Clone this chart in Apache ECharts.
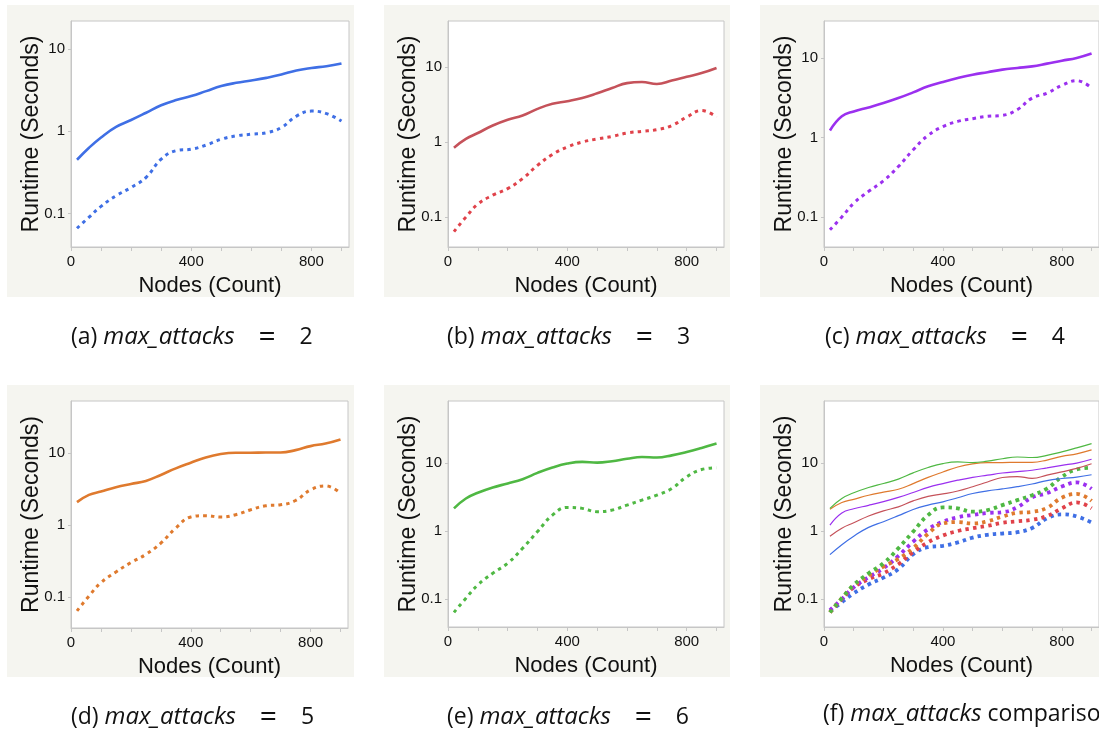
<!DOCTYPE html>
<html>
<head>
<meta charset="utf-8">
<script src="https://cdn.jsdelivr.net/npm/echarts@6/dist/echarts.min.js"></script>
<style>
html,body{margin:0;padding:0;background:#ffffff;}
#chart{width:1099px;height:734px;}
</style>
</head>
<body>
<div id="chart"></div>
<script>
// ---- data ----
const nodes = [20, 60, 100, 150, 200, 250, 300, 350, 400, 450, 500, 550, 600, 650, 700, 750, 800, 850, 900];
const xTickLabels = [0, 400, 800];
const yTickLabels = [0.1, 1, 10];

const solid2  = [0.45, 0.63, 0.84, 1.13, 1.37, 1.68, 2.07, 2.4, 2.68, 3.08, 3.55, 3.89, 4.15, 4.47, 4.9, 5.5, 5.9, 6.2, 6.7];
const dotted2 = [0.066, 0.09, 0.122, 0.164, 0.207, 0.275, 0.457, 0.58, 0.605, 0.68, 0.8, 0.88, 0.92, 0.96, 1.11, 1.53, 1.76, 1.64, 1.33];
const solid3  = [0.84, 1.1, 1.32, 1.66, 1.98, 2.26, 2.77, 3.23, 3.5, 3.87, 4.47, 5.25, 6.1, 6.3, 5.94, 6.6, 7.4, 8.3, 9.7];
const dotted3 = [0.064, 0.1, 0.149, 0.196, 0.24, 0.326, 0.49, 0.685, 0.86, 1.0, 1.1, 1.19, 1.32, 1.39, 1.46, 1.66, 2.15, 2.63, 2.15];
const solid4  = [1.22, 1.84, 2.12, 2.38, 2.7, 3.12, 3.68, 4.38, 4.97, 5.57, 6.14, 6.6, 7.1, 7.45, 7.8, 8.45, 9.2, 9.95, 11.3];
const dotted4 = [0.069, 0.1, 0.149, 0.21, 0.285, 0.43, 0.7, 1.06, 1.37, 1.59, 1.72, 1.84, 1.89, 2.23, 3.12, 3.6, 4.5, 5.16, 4.17];
const solid5  = [2.08, 2.62, 2.92, 3.35, 3.72, 4.1, 4.97, 6.14, 7.35, 8.7, 9.7, 10.1, 10.1, 10.2, 10.2, 11, 12.5, 13.6, 15.5];
const dotted5 = [0.064, 0.103, 0.158, 0.222, 0.3, 0.39, 0.56, 0.91, 1.29, 1.35, 1.29, 1.39, 1.63, 1.85, 1.91, 2.19, 3.08, 3.5, 2.77];
const solid6  = [2.15, 3.0, 3.64, 4.36, 4.99, 5.77, 7.14, 8.55, 9.78, 10.35, 10.1, 10.6, 11.5, 12.2, 12.0, 12.9, 14.5, 16.6, 19.2];
const dotted6 = [0.064, 0.103, 0.162, 0.24, 0.336, 0.557, 0.98, 1.71, 2.22, 2.15, 1.92, 2.03, 2.4, 2.84, 3.36, 4.2, 6.24, 8.0, 8.5];

const captionPrefix = ['(a) ', '(b) ', '(c) ', '(d) ', '(e) ', '(f) '];
const captionItalic = 'max_attacks';
const captionValue = ['2', '3', '4', '5', '6', null];
const captionTail = ' comparison';
const xAxisName = 'Nodes (Count)';
const yAxisName = 'Runtime (Seconds)';

// ---- styles ----
const colors = {
  2: {solid: '#3f6fe5', dotted: '#3f6fe5'},
  3: {solid: '#c5525a', dotted: '#e0424a'},
  4: {solid: '#9b30ef', dotted: '#9b30ef'},
  5: {solid: '#df7a2e', dotted: '#df7a2e'},
  6: {solid: '#4fb843', dotted: '#4fb843'}
};
const seriesData = {
  2: [solid2, dotted2], 3: [solid3, dotted3], 4: [solid4, dotted4],
  5: [solid5, dotted5], 6: [solid6, dotted6]
};

const panels = [
  {left: 71,  top: 21,  width: 278, height: 226, ymin: 0.039, ymax: 22, keys: [2], bg: [7, 5, 347, 292]},
  {left: 448, top: 21,  width: 276, height: 226, ymin: 0.04,  ymax: 41, keys: [3], bg: [384, 5, 346, 292]},
  {left: 824, top: 21,  width: 278, height: 226, ymin: 0.042, ymax: 29, keys: [4], bg: [760, 5, 345, 292]},
  {left: 71,  top: 401, width: 277, height: 227, ymin: 0.037, ymax: 53, keys: [5], bg: [7, 385, 347, 292]},
  {left: 448, top: 401, width: 276, height: 226, ymin: 0.039, ymax: 81, keys: [6], bg: [384, 385, 346, 292]},
  {left: 824, top: 401, width: 278, height: 226, ymin: 0.039, ymax: 81, keys: [2, 3, 4, 5, 6], bg: [760, 385, 345, 292]}
];
const captionPos = [[71, 339], [447, 339], [825, 339], [71, 719], [447, 719], [823, 719]];

const FONT = '"Liberation Sans", Arial, Helvetica, sans-serif';
const CAPFONT = '"Open Sans", Lato, sans-serif';
const CAPSIZE = 23;

const grid = [], xAxis = [], yAxis = [], series = [], graphic = [];

panels.forEach((p, i) => {
  graphic.push({
    type: 'rect', z: -10, silent: true,
    shape: {x: p.bg[0], y: p.bg[1], width: p.bg[2], height: p.bg[3]},
    style: {fill: '#f5f5f0'}
  });
  grid.push({left: p.left, top: p.top, width: p.width, height: p.height,
    show: true, backgroundColor: '#ffffff', borderColor: '#c6c6c6', borderWidth: 1});
  xAxis.push({
    type: 'value', gridIndex: i, min: 0, max: 925, interval: 100,
    name: xAxisName, nameLocation: 'middle', nameGap: 28,
    nameTextStyle: {fontFamily: FONT, fontSize: 22, color: '#111'},
    axisLine: {show: true, lineStyle: {color: '#c6c6c6'}},
    axisTick: {show: true, length: 4, inside: false, lineStyle: {color: '#c6c6c6'}},
    splitLine: {show: false},
    axisLabel: {interval: 0, margin: 7, fontFamily: FONT, fontSize: 15, color: '#111',
      showMinLabel: true, showMaxLabel: false,
      formatter: v => xTickLabels.indexOf(v) >= 0 ? String(v) : ''}
  });
  yAxis.push({
    type: 'log', gridIndex: i, min: p.ymin, max: p.ymax, logBase: 10,
    name: yAxisName, nameLocation: 'middle', nameGap: 28, nameRotate: 90,
    nameMoveOverlap: false,
    nameTextStyle: {fontFamily: FONT, fontSize: 23, color: '#111'},
    axisLine: {show: true, lineStyle: {color: '#c6c6c6'}},
    axisTick: {show: true, length: 3, lineStyle: {color: '#c6c6c6'}},
    splitLine: {show: false},
    axisLabel: {margin: 6, fontFamily: FONT, fontSize: 15, color: '#111',
      showMinLabel: false, showMaxLabel: false,
      formatter: v => {
        const hit = yTickLabels.find(t => Math.abs(Math.log10(v) - Math.log10(t)) < 1e-6);
        return hit !== undefined ? String(hit) : '';
      }}
  });
  const combo = p.keys.length > 1;
  p.keys.forEach(k => {
    const [s, d] = seriesData[k];
    series.push({
      type: 'line', xAxisIndex: i, yAxisIndex: i, smooth: 0.45, symbol: 'none',
      data: nodes.map((x, j) => [x, s[j]]),
      lineStyle: {color: colors[k].solid, width: combo ? 1.2 : 2.6, type: 'solid'},
      z: 3
    });
    series.push({
      type: 'line', xAxisIndex: i, yAxisIndex: i, smooth: 0.45, symbol: 'none',
      data: nodes.map((x, j) => [x, d[j]]),
      lineStyle: {color: colors[k].dotted, width: combo ? 3.8 : 3, type: [3.5, 4.2]},
      z: 2
    });
  });
  const tail = captionValue[i] !== null
    ? '{n|    }{eq|=}{n|    ' + captionValue[i] + '}'
    : '{n|' + captionTail + '}';
  graphic.push({
    type: 'text', left: captionPos[i][0], top: captionPos[i][1] - 17, silent: true,
    style: {
      text: '{n|' + captionPrefix[i] + '}{it|' + captionItalic + '}' + tail,
      rich: {
        n: {fontFamily: CAPFONT, fontSize: CAPSIZE, lineHeight: 34, fill: '#111'},
        it: {fontFamily: CAPFONT, fontSize: 24, lineHeight: 34, fontStyle: 'italic', fill: '#111'},
        eq: {fontFamily: CAPFONT, fontSize: 30, lineHeight: 34, fill: '#111'}
      }
    }
  });
});

const chart = echarts.init(document.getElementById('chart'), null, {renderer: 'canvas'});
chart.setOption({
  animation: false,
  backgroundColor: '#ffffff',
  grid, xAxis, yAxis, series, graphic
});
</script>
</body>
</html>
